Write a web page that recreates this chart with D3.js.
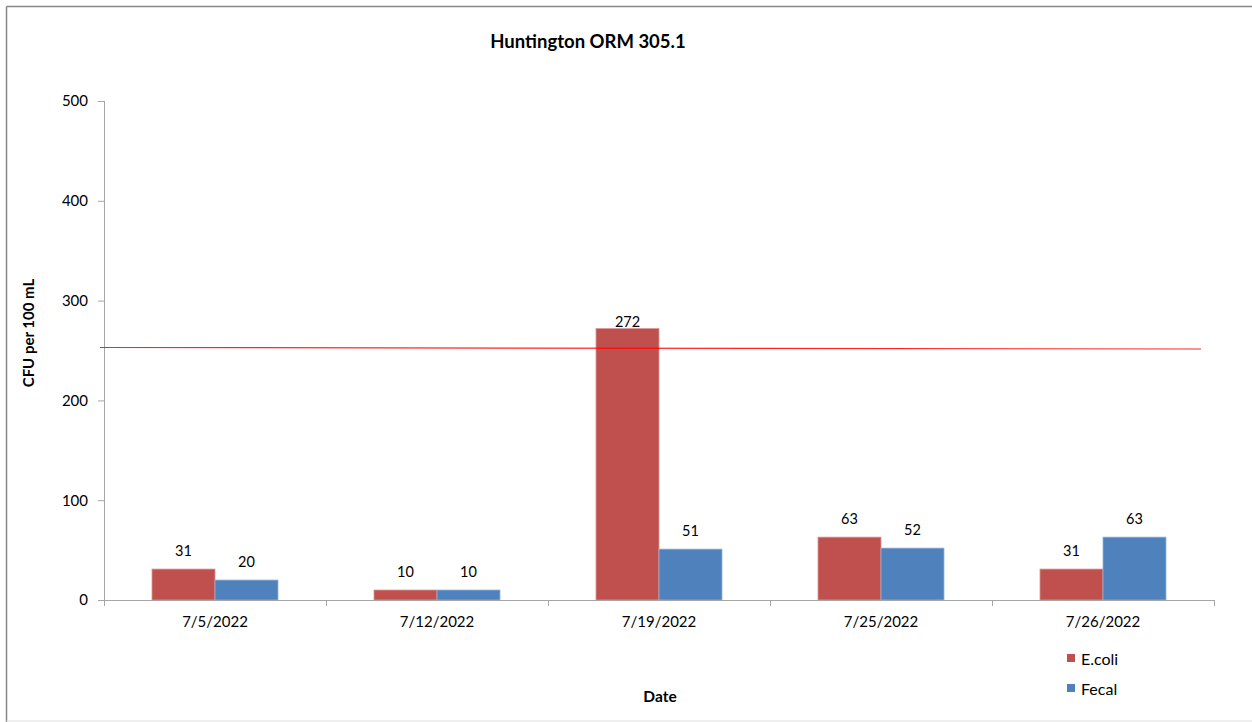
<!DOCTYPE html>
<html>
<head>
<meta charset="utf-8">
<script src="https://cdn.jsdelivr.net/npm/d3@7"></script>
<style>
  body { margin: 0; background: #fff; }
  text { font-family: Lato, "Open Sans", sans-serif; fill: #000; }
</style>
</head>
<body>
<div id="chart"></div>
<script>
// data
var dates = ["7/5/2022", "7/12/2022", "7/19/2022", "7/25/2022", "7/26/2022"];
var ecoli = [31, 10, 272, 63, 31];
var fecal = [20, 10, 51, 52, 63];
var seriesNames = ["E.coli", "Fecal"];
var seriesColors = ["#C0504D", "#4F81BD"];
var yTicks = [0, 100, 200, 300, 400, 500];
var limitStart = 253, limitEnd = 251.5;

var W = 1252, H = 722;
var margin = { top: 101, right: 38, bottom: 122, left: 104 };
var width = W - margin.left - margin.right,
    height = H - margin.top - margin.bottom;

var svg = d3.select("#chart").append("svg")
    .attr("width", W)
    .attr("height", H);

// chart frame
svg.append("line").attr("x1", 6.5).attr("x2", 6.5).attr("y1", 6.5).attr("y2", 722)
    .attr("stroke", "#868686").attr("stroke-width", 1.5);
svg.append("line").attr("x1", 6.5).attr("x2", 1252).attr("y1", 6.5).attr("y2", 6.5)
    .attr("stroke", "#868686").attr("stroke-width", 1.5);
svg.append("line").attr("x1", 6.5).attr("x2", 1252).attr("y1", 721).attr("y2", 721)
    .attr("stroke", "#e0e0e0").attr("stroke-width", 1);

var g = svg.append("g")
    .attr("transform", "translate(" + margin.left + "," + margin.top + ")");

var rows = dates.map(function(d, i) { return { date: d, values: [ecoli[i], fecal[i]] }; });

var x = d3.scaleBand().domain(dates).range([0, width]);
var xInner = d3.scaleBand().domain(seriesNames)
    .range([x.bandwidth() / 2 - 63, x.bandwidth() / 2 + 63]);
var y = d3.scaleLinear().domain([0, 500]).range([height, 0]);

// y axis
var yAxis = g.append("g").call(d3.axisLeft(y).tickValues(yTicks).tickSize(6).tickPadding(10));
yAxis.select(".domain").attr("stroke", "#a6a6a6").attr("d", "M0.5," + (height + 4) + "V0");
yAxis.selectAll(".tick line").attr("stroke", "#a6a6a6").attr("x1", -6).attr("x2", 0);
yAxis.selectAll(".tick text").style("font-size", "15px").attr("fill", "#000");

// bars
var groups = g.selectAll(".grp").data(rows).enter().append("g")
    .attr("transform", function(d) { return "translate(" + x(d.date) + ",0)"; });

groups.selectAll("rect").data(function(d) { return d.values; }).enter().append("rect")
    .attr("x", function(d, i) { return xInner(seriesNames[i]); })
    .attr("width", xInner.bandwidth())
    .attr("y", function(d) { return y(d); })
    .attr("height", function(d) { return height - y(d); })
    .attr("fill", function(d, i) { return seriesColors[i]; })
    .attr("stroke", function(d, i) { return i === 0 ? "#d99694" : "#95b3d7"; })
    .attr("stroke-width", 0.8);

groups.selectAll(".lbl").data(function(d) { return d.values; }).enter().append("text")
    .attr("x", function(d, i) { return xInner(seriesNames[i]) + xInner.bandwidth() / 2; })
    .attr("y", function(d) { return d > 200 ? y(d) - 2 : y(d) - 13; })
    .attr("text-anchor", "middle")
    .style("font-size", "14.5px")
    .text(function(d) { return d; });

// x axis
var xAxis = g.append("g").attr("transform", "translate(0," + height + ")")
    .call(d3.axisBottom(x).tickSize(0).tickPadding(16));
xAxis.select(".domain").attr("stroke", "#a6a6a6").attr("d", "M0,0.5H" + width);
xAxis.selectAll(".tick text").style("font-size", "15px").attr("fill", "#000");
g.append("g").selectAll("line").data(dates.concat(["end"])).enter().append("line")
    .attr("x1", function(d, i) { return i * x.step() + 0.5; })
    .attr("x2", function(d, i) { return i * x.step() + 0.5; })
    .attr("y1", height).attr("y2", height + 6)
    .attr("stroke", "#a6a6a6");

// limit line
g.append("line")
    .attr("x1", -4).attr("x2", width - 13)
    .attr("y1", y(limitStart)).attr("y2", y(limitEnd))
    .attr("stroke", "#ff0000").attr("stroke-width", 1.2).attr("opacity", 0.85);

// titles
svg.append("text").attr("x", 588).attr("y", 48).attr("text-anchor", "middle")
    .style("font-size", "18.5px").style("font-weight", "bold").text("Huntington ORM 305.1");
svg.append("text").attr("transform", "translate(34,333) rotate(-90)").attr("text-anchor", "middle")
    .style("font-size", "15px").style("font-weight", "bold").text("CFU per 100 mL");
svg.append("text").attr("x", 660).attr("y", 702).attr("text-anchor", "middle")
    .style("font-size", "15.5px").style("font-weight", "bold").text("Date");

// legend
var legend = svg.append("g").attr("transform", "translate(1067,652)");
seriesNames.forEach(function(s, i) {
    legend.append("rect").attr("x", 0).attr("y", i * 30 + 2).attr("width", 8).attr("height", 8)
        .attr("fill", seriesColors[i]);
    legend.append("text").attr("x", 14).attr("y", i * 30 + 12.5)
        .style("font-size", "16px").text(s);
});
</script>
</body>
</html>
